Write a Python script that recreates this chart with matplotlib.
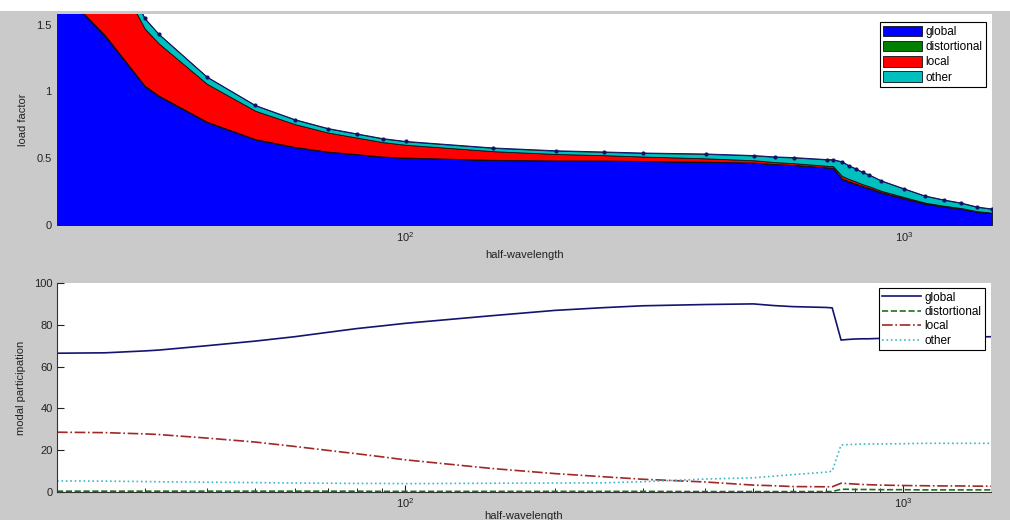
import numpy as np
import matplotlib
matplotlib.use("Agg")
import matplotlib.pyplot as plt
from matplotlib.patches import Rectangle
from matplotlib.ticker import LogLocator, NullFormatter

plt.rcParams["font.family"] = ["Liberation Sans", "DejaVu Sans"]
plt.rcParams["font.size"] = 8
plt.rcParams["mathtext.default"] = "regular"

# ---------------- data ----------------
half_wavelength = [20, 25, 30, 32, 40, 50, 60, 70, 80, 90, 100, 150, 200, 250, 300,
                   400, 500, 550, 600, 700, 720, 750, 775, 800, 825, 850, 900,
                   1000, 1100, 1200, 1300, 1400, 1500]

load_factor = [2.70, 2.13, 1.547, 1.429, 1.108, 0.895, 0.789, 0.722, 0.682, 0.647,
               0.626, 0.577, 0.556, 0.547, 0.539, 0.532, 0.520, 0.510, 0.505, 0.490,
               0.489, 0.474, 0.444, 0.421, 0.395, 0.376, 0.331, 0.271, 0.218, 0.188,
               0.165, 0.135, 0.120]

# modal participation [%]
p_global = [66.4, 66.6, 67.5, 67.9, 70.0, 72.2, 74.3, 76.4, 78.2, 79.5, 80.7, 84.4,
            86.9, 88.2, 89.1, 89.7, 90.0, 89.2, 88.7, 88.3, 88.1, 72.7, 73.0, 73.2,
            73.3, 73.3, 73.5, 73.7, 73.9, 74.0, 74.1, 74.2, 74.3]
p_distortional = [0.4, 0.4, 0.4, 0.4, 0.4, 0.4, 0.4, 0.4, 0.4, 0.3, 0.3, 0.3, 0.3,
                  0.3, 0.3, 0.2, 0.2, 0.2, 0.2, 0.2, 0.2, 1.3, 1.3, 1.2, 1.2, 1.2,
                  1.1, 1.1, 1.0, 1.0, 1.0, 1.0, 1.0]
p_local = [28.6, 28.4, 27.8, 27.5, 25.8, 23.9, 21.8, 19.9, 18.3, 16.8, 15.4, 11.2,
           8.8, 7.3, 6.1, 4.8, 3.3, 3.0, 2.6, 2.5, 2.5, 4.2, 4.0, 3.8, 3.6, 3.5, 3.3,
           3.1, 3.0, 2.9, 2.9, 2.8, 2.8]
p_other = [5.3, 5.2, 5.0, 4.9, 4.7, 4.5, 4.3, 4.2, 4.1, 4.1, 4.0, 4.2, 4.3, 4.4, 4.9,
           6.2, 6.8, 7.6, 8.3, 9.5, 10.0, 22.5, 22.7, 22.8, 22.9, 23.0, 23.0, 23.1,
           23.3, 23.3, 23.3, 23.3, 23.3]

labels = ["global", "distortional", "local", "other"]

# ---------------- stacked load factor per mode ----------------
x = np.array(half_wavelength, float)
lf = np.array(load_factor, float)
P = np.array([p_global, p_distortional, p_local, p_other], float)
layers = lf * P / P.sum(axis=0)

fill_cols = ["#0000ff", "#007f00", "#ff0000", "#00bfbf"]
line_cols = ["#141470", "#1f6f1f", "#a02828", "#3cb8c8"]
line_styles = ["-", "--", "-.", ":"]

fig = plt.figure(figsize=(10.10, 5.20), dpi=100, facecolor="#cacaca")
fig.patches.append(Rectangle((0, 1 - 11/520), 1, 11/520, transform=fig.transFigure,
                             facecolor="white", edgecolor="none", zorder=-1))

W, H = 1010.0, 520.0
ax1 = fig.add_axes([57/W, 1 - 225/H, 935/W, 211/H])
ax2 = fig.add_axes([57/W, 1 - 492/H, 934/W, 209/H])

# top: load factor split by mode
ax1.stackplot(x, layers, colors=fill_cols, labels=labels,
              edgecolor="#101010", linewidth=0.6)
ax1.plot(x, lf, ".-", color="#12126e", linewidth=0.7, markersize=4)
ax1.set_xscale("log")
ax1.set_xlim(20, 1500)
ax1.set_ylim(0, 1.58)
ax1.set_yticks([0, 0.5, 1, 1.5])
ax1.set_yticklabels(["0", "0.5", "1", "1.5"])
ax1.tick_params(axis="both", which="both", length=0, pad=4, colors="#222222")
ax1.xaxis.set_minor_formatter(NullFormatter())
for s in ax1.spines.values():
    s.set_visible(False)
ax1.set_xlabel("half-wavelength", labelpad=4, color="#222222")
ax1.set_ylabel("load factor", labelpad=6, color="#222222")
leg1 = ax1.legend(loc="upper right", bbox_to_anchor=(0.9935, 0.962), borderaxespad=0,
                  fancybox=False, edgecolor="black", framealpha=1, fontsize=8.5,
                  handlelength=3.3, handleheight=1.0, handletextpad=0.25,
                  labelspacing=0.25, borderpad=0.3)
leg1.get_frame().set_linewidth(0.8)

# bottom: modal participation
for i in range(4):
    ax2.plot(x, P[i], line_styles[i], color=line_cols[i], linewidth=1.2, label=labels[i])
ax2.set_xscale("log")
ax2.set_xlim(20, 1500)
ax2.set_ylim(0, 100)
ax2.set_yticks([0, 20, 40, 60, 80, 100])
ax2.xaxis.set_minor_locator(LogLocator(subs=np.arange(2, 10)))
ax2.xaxis.set_minor_formatter(NullFormatter())
ax2.tick_params(axis="both", which="major", direction="in", length=5, pad=3,
                colors="#222222")
ax2.tick_params(axis="x", which="minor", direction="in", length=3)
ax2.spines["top"].set_visible(False)
ax2.spines["right"].set_visible(False)
ax2.spines["left"].set_color("#333333")
ax2.spines["bottom"].set_color("#333333")
ax2.set_xlabel("half-wavelength", labelpad=1, color="#222222")
ax2.set_ylabel("modal participation", labelpad=6, color="#222222")
leg2 = ax2.legend(loc="upper right", bbox_to_anchor=(0.9935, 0.976), borderaxespad=0,
                  fancybox=False, edgecolor="black", framealpha=1, fontsize=8.5,
                  handlelength=3.3, handletextpad=0.25, labelspacing=0.2,
                  borderpad=0.3)
leg2.get_frame().set_linewidth(0.8)

fig.savefig("out.png", dpi=100, facecolor=fig.get_facecolor())
